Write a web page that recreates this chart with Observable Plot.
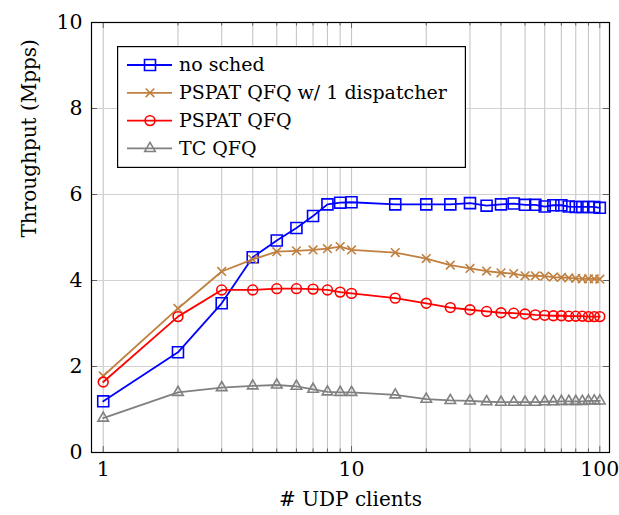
<!DOCTYPE html>
<html>
<head>
<meta charset="utf-8">
<script src="https://cdn.jsdelivr.net/npm/d3@7"></script>
<script src="https://cdn.jsdelivr.net/npm/@observablehq/plot@0.6"></script>
<style>
  html, body { margin: 0; padding: 0; background: #fff; }
  #wrap { position: relative; width: 619px; height: 515px; }
  #legend { position: absolute; left: 117px; top: 46px; }
</style>
</head>
<body>
<div id="wrap"><div id="chart"></div><div id="legend"></div></div>
<script>
// ---- data ----
const clients = [1,2,3,4,5,6,7,8,9,10,15,20,25,30,35,40,45,50,55,60,65,70,75,80,85,90,95,100];
const noSched = [1.19,2.33,3.47,4.54,4.93,5.22,5.50,5.77,5.81,5.82,5.77,5.77,5.77,5.80,5.74,5.77,5.79,5.76,5.76,5.72,5.75,5.75,5.72,5.71,5.71,5.71,5.71,5.69];
const pspat1 = [1.78,3.35,4.21,4.49,4.67,4.69,4.71,4.74,4.79,4.71,4.65,4.51,4.36,4.28,4.22,4.18,4.16,4.11,4.11,4.10,4.08,4.07,4.06,4.05,4.04,4.04,4.04,4.03];
const pspat = [1.64,3.16,3.78,3.78,3.81,3.81,3.80,3.78,3.73,3.70,3.59,3.47,3.37,3.32,3.28,3.25,3.24,3.22,3.20,3.19,3.18,3.18,3.17,3.17,3.17,3.16,3.16,3.16];
const tcQfq = [0.80,1.40,1.51,1.55,1.57,1.54,1.47,1.41,1.40,1.40,1.34,1.24,1.21,1.20,1.18,1.17,1.17,1.17,1.17,1.18,1.18,1.19,1.19,1.19,1.19,1.20,1.20,1.20];

const seriesNames = ["no sched", "PSPAT QFQ w/ 1 dispatcher", "PSPAT QFQ", "TC QFQ"];
const seriesValues = [noSched, pspat1, pspat, tcQfq];
const seriesColors = ["#0000ff", "#bf8040", "#ff0000", "#808080"];
const seriesSymbols = ["square", "times", "circle", "triangle"];
const seriesR = [6.2, 4.0, 4.9, 3.9];

const xMajor = [1, 10, 100];
const xMinor = [2,3,4,5,6,7,8,9,20,30,40,50,60,70,80,90];
const yTicks = [0, 2, 4, 6, 8, 10];
const xLabel = "# UDP clients";
const yLabel = "Throughput (Mpps)";

// ---- layout ----
const W = 619, H = 515;
const mL = 91, mR = 10, mT = 22, mB = 63;
const innerW = W - mL - mR, innerH = H - mT - mB;
const font = "'DejaVu Serif', 'Liberation Serif', serif";

const rows = [];
seriesNames.forEach((name, i) => {
  clients.forEach((c, j) => rows.push({series: name, x: c, y: seriesValues[i][j]}));
});

const marks = [
  Plot.ruleX([...xMajor, ...xMinor], {stroke: "#c6c6c6", strokeWidth: 1.1}),
  Plot.ruleY(yTicks, {stroke: "#d2d2d2", strokeWidth: 1.1}),
  // inward ticks
  Plot.tickX(xMajor, {x: d => d, insetTop: innerH - 6, stroke: "#444", strokeWidth: 0.8}),
  Plot.tickX(xMajor, {x: d => d, insetBottom: innerH - 6, stroke: "#444", strokeWidth: 0.8}),
  Plot.tickX(xMinor, {x: d => d, insetTop: innerH - 3.5, stroke: "#444", strokeWidth: 0.8}),
  Plot.tickX(xMinor, {x: d => d, insetBottom: innerH - 3.5, stroke: "#444", strokeWidth: 0.8}),
  Plot.tickY(yTicks, {y: d => d, insetRight: innerW - 6, stroke: "#444", strokeWidth: 0.8}),
  Plot.tickY(yTicks, {y: d => d, insetLeft: innerW - 6, stroke: "#444", strokeWidth: 0.8}),
];

seriesNames.forEach((name, i) => {
  const d = rows.filter(r => r.series === name);
  marks.push(Plot.line(d, {x: "x", y: "y", stroke: seriesColors[i], strokeWidth: 1.8}));
  marks.push(Plot.dot(d, {x: "x", y: "y", symbol: () => seriesSymbols[i], r: seriesR[i],
    stroke: seriesColors[i], fill: "none", strokeWidth: 1.6}));
});

marks.push(
  Plot.frame({stroke: "#000", strokeWidth: 1.2}),
  Plot.text(xMajor, {x: d => d, frameAnchor: "bottom", dy: 17, lineAnchor: "middle",
    text: d => String(d), fontSize: 20.5, fontFamily: font, fill: "#000"}),
  Plot.text(yTicks, {y: d => d, frameAnchor: "left", dx: -9, textAnchor: "end", lineAnchor: "middle",
    text: d => String(d), fontSize: 20.5, fontFamily: font, fill: "#000"}),
  Plot.text([xLabel], {frameAnchor: "bottom", dy: 53, lineAnchor: "bottom", text: d => d,
    fontSize: 20, fontFamily: font, fill: "#000"}),
  Plot.text([yLabel], {frameAnchor: "left", dx: -62, rotate: -90, lineAnchor: "middle", text: d => d,
    fontSize: 20, fontFamily: font, fill: "#000"})
);

const chart = Plot.plot({
  width: W, height: H,
  marginLeft: mL, marginRight: mR, marginTop: mT, marginBottom: mB,
  x: {type: "log", domain: [0.897, 109.4], axis: null},
  y: {domain: [0, 10], axis: null},
  symbol: {type: "identity"},
  style: {fontFamily: font, background: "#fff"},
  marks
});
document.getElementById("chart").appendChild(chart);

// ---- legend ----
const LW = 349, LH = 122;
const lsvg = d3.select("#legend").append("svg").attr("width", LW).attr("height", LH);
lsvg.append("rect").attr("x", 0.6).attr("y", 0.6).attr("width", LW - 1.2).attr("height", LH - 1.2)
  .attr("fill", "#fff").attr("stroke", "#000").attr("stroke-width", 1.2);
const symMap = {square: d3.symbolSquare, times: d3.symbolTimes, circle: d3.symbolCircle, triangle: d3.symbolTriangle};
seriesNames.forEach((name, i) => {
  const cy = 19 + i * 27.8;
  const g = lsvg.append("g").attr("transform", `translate(0,${cy})`);
  g.append("line").attr("x1", 10).attr("x2", 55).attr("y1", 0).attr("y2", 0)
    .attr("stroke", seriesColors[i]).attr("stroke-width", 1.8);
  g.append("path").attr("transform", "translate(33,0)")
    .attr("d", d3.symbol().type(symMap[seriesSymbols[i]]).size(Math.PI * seriesR[i] * seriesR[i])())
    .attr("fill", "none").attr("stroke", seriesColors[i]).attr("stroke-width", 1.6);
  g.append("text").attr("x", 62).attr("y", 0).attr("dy", "0.33em")
    .attr("font-family", font).attr("font-size", 19)
    .attr("fill", "#000").text(name);
});
</script>
</body>
</html>
